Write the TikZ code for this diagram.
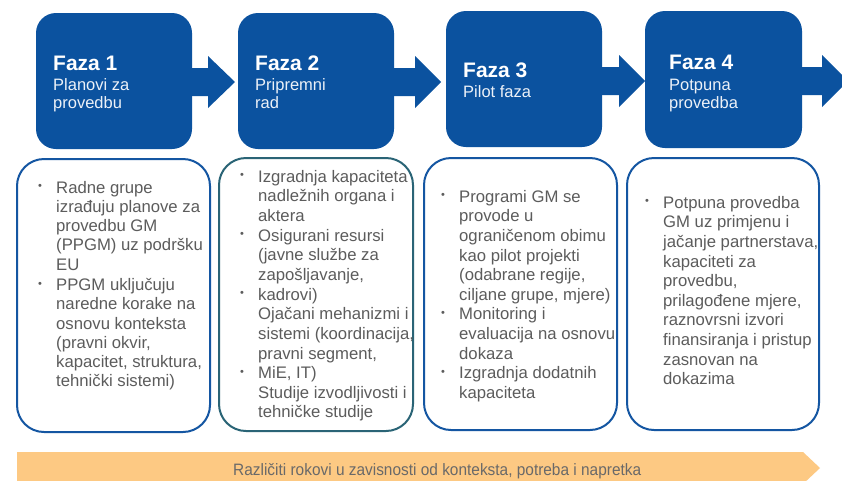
\documentclass[tikz,border=0pt]{standalone}
\usepackage{fontspec}
\usepackage{graphicx}
\setmainfont{Liberation Sans}
\definecolor{fazablue}{RGB}{11,82,159}
\definecolor{edgeblue}{RGB}{20,86,162}
\definecolor{edgeteal}{RGB}{42,100,118}
\definecolor{bodygray}{RGB}{92,92,92}
\definecolor{subwhite}{RGB}{236,241,248}
\definecolor{bandpeach}{RGB}{253,201,131}
\definecolor{bandtext}{RGB}{105,105,105}
\newcommand{\bul}{\makebox[18pt][l]{\raisebox{3.4pt}{\fontsize{11}{11}\selectfont\textbullet}}}
\newcommand{\ind}{\makebox[18pt]{}}
\begin{document}
\begin{tikzpicture}[x=1pt,y=-1pt,
  phase/.style={fill=fazablue, draw=none, rounded corners=20pt, inner sep=0pt, outer sep=0pt, anchor=north west},
  panel/.style={draw=edgeblue, line width=2pt, fill=white, rounded corners=27pt, inner sep=0pt, outer sep=0pt, anchor=north west},
  title/.style={anchor=base west, inner sep=0pt, text=white, font=\fontsize{21}{24}\selectfont\bfseries},
  subtitle/.style={anchor=north west, inner sep=0pt, align=left, text=subwhite, font=\fontsize{16.5}{18}\selectfont},
  bodytext/.style={anchor=north west, inner sep=0pt, align=left, text=bodygray},
  blockarrow/.style={fill=fazablue, draw=none}
]
\useasboundingbox (0,0) rectangle (842,480);
\fill[white] (0,0) rectangle (842,480);

% arrows (behind boxes)
\fill[blockarrow] (180,68) -- (208,68) -- (208,56) -- (235,82) -- (208,108) -- (208,96) -- (180,96) -- cycle;
\fill[blockarrow] (385,68) -- (415,68) -- (415,56) -- (441,82) -- (415,108) -- (415,96) -- (385,96) -- cycle;
\fill[blockarrow] (592,67) -- (619,67) -- (619,55) -- (645,81) -- (619,107) -- (619,95) -- (592,95) -- cycle;
\fill[blockarrow] (792,67) -- (822,67) -- (822,55) -- (848,81) -- (822,107) -- (822,95) -- (792,95) -- cycle;

% phase boxes
\node[phase, minimum width=156pt, minimum height=136pt] (p1) at (36,13) {};
\node[phase, minimum width=156pt, minimum height=136pt] (p2) at (238,13) {};
\node[phase, minimum width=156pt, minimum height=136pt] (p3) at (446,11) {};
\node[phase, minimum width=157pt, minimum height=137pt] (p4) at (645,11) {};

\node[title] (t1) at (53,70) {Faza 1};
\node[subtitle] (s1) at (53,77.4) {\strut Planovi za\\provedbu};
\node[title] (t2) at (255,70) {Faza 2};
\node[subtitle] (s2) at (255,77.4) {\strut Pripremni\\rad};
\node[title] (t3) at (463,77) {Faza 3};
\node[subtitle] (s3) at (463,84.4) {\strut Pilot faza};
\node[title] (t4) at (669,69) {Faza 4};
\node[subtitle] (s4) at (669,77.4) {\strut Potpuna\\provedba};

% panels
\node[panel, minimum width=193pt, minimum height=273pt] (b1) at (17,159) {};
\node[panel, draw=edgeteal, minimum width=194pt, minimum height=273pt] (b2) at (219,158) {};
\node[panel, minimum width=193pt, minimum height=272pt] (b3) at (424,158) {};
\node[panel, minimum width=192pt, minimum height=272pt] (b4) at (627,158) {};

\node[bodytext, font=\fontsize{16.7}{19.2}\selectfont] (x1) at (38,179.6) {\strut\bul Radne grupe\\
\ind izrađuju planove za\\
\ind provedbu GM\\
\ind (PPGM) uz podršku\\
\ind EU\\[1.5pt]
\bul PPGM uključuju\\
\ind naredne korake na\\
\ind osnovu konteksta\\
\ind (pravni okvir,\\
\ind kapacitet, struktura,\\
\ind tehnički sistemi)};

\node[bodytext, font=\fontsize{16.7}{19.65}\selectfont] (x2) at (240,168.2) {\strut\bul Izgradnja kapaciteta\\
\ind nadležnih organa i\\
\ind aktera\\
\bul Osigurani resursi\\
\ind (javne službe za\\
\ind zapošljavanje,\\
\bul kadrovi)\\
\ind Ojačani mehanizmi i\\
\ind sistemi (koordinacija,\\
\ind pravni segment,\\
\bul MiE, IT)\\
\ind Studije izvodljivosti i\\
\ind tehničke studije};

\node[bodytext, font=\fontsize{16.7}{19.6}\selectfont] (x3) at (441,188.3) {\strut\bul Programi GM se\\
\ind provode u\\
\ind ograničenom obimu\\
\ind kao pilot projekti\\
\ind (odabrane regije,\\
\ind ciljane grupe, mjere)\\
\bul Monitoring i\\
\ind evaluacija na osnovu\\
\ind dokaza\\
\bul Izgradnja dodatnih\\
\ind kapaciteta};

\node[bodytext, font=\fontsize{16.7}{19.6}\selectfont] (x4) at (645,194.3) {\strut\bul Potpuna provedba\\
\ind GM uz primjenu i\\
\ind jačanje partnerstava,\\
\ind kapaciteti za\\
\ind provedbu,\\
\ind prilagođene mjere,\\
\ind raznovrsni izvori\\
\ind finansiranja i pristup\\
\ind zasnovan na\\
\ind dokazima};

% bottom band
\fill[bandpeach] (17,452) -- (803,452) -- (820,468) -- (803,484) -- (17,484) -- cycle;
\node[anchor=base west, inner sep=0pt, text=bandtext, font=\fontsize{16.5}{18}\selectfont] (band) at (233,475)
  {\resizebox{408pt}{\height}{Različiti rokovi u zavisnosti od konteksta, potreba i napretka}};
\end{tikzpicture}
\end{document}
